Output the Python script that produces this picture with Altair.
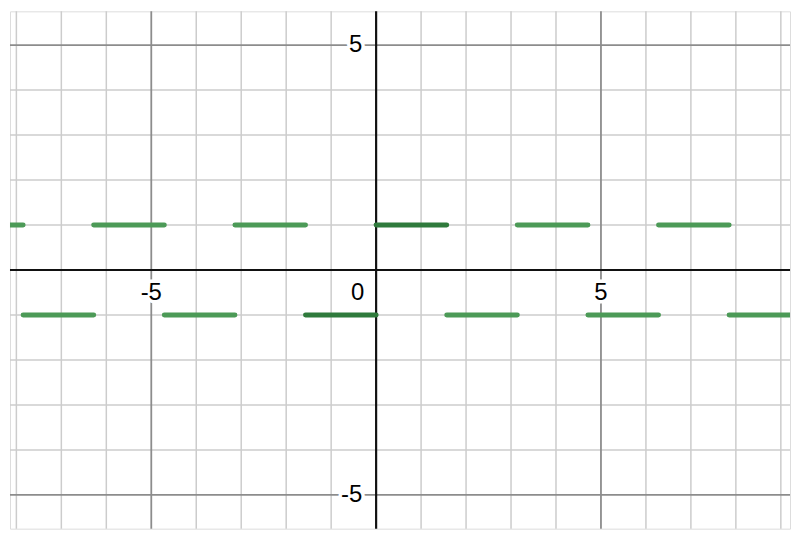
import altair as alt
import pandas as pd

# Segment endpoints (multiples of about 1.57)
seg_start = [-9.42, -7.85, -6.28, -4.71, -3.14, -1.57, 0.0, 1.57, 3.14, 4.71, 6.28, 7.85]
seg_end = [-7.85, -6.28, -4.71, -3.14, -1.57, 0.0, 1.57, 3.14, 4.71, 6.28, 7.85, 9.42]
seg_y = [1, -1, 1, -1, 1, -1, 1, -1, 1, -1, 1, -1]
seg_kind = ["light", "light", "light", "light", "light", "dark",
            "dark", "light", "light", "light", "light", "light"]

minor_x = [-8, -7, -6, -4, -3, -2, -1, 1, 2, 3, 4, 6, 7, 8, 9]
minor_y = [-4, -3, -2, -1, 1, 2, 3, 4]
major_x = [-5, 5]
major_y = [-5, 5]

x_tick_labels = ["-5", "5"]
x_tick_vals = [-5, 5]
y_tick_labels = ["-5", "5"]
y_tick_vals = [-5, 5]

X_DOM = [-8.142, 9.204]
Y_DOM = [-5.752, 5.752]

xs = alt.Scale(domain=X_DOM, nice=False, zero=False)
ys = alt.Scale(domain=Y_DOM, nice=False, zero=False)

segs = pd.DataFrame({"x1": seg_start, "x2": seg_end, "y": seg_y, "kind": seg_kind})
vmin = pd.DataFrame({"x": minor_x})
hmin = pd.DataFrame({"y": minor_y})
vmaj = pd.DataFrame({"x": major_x})
hmaj = pd.DataFrame({"y": major_y})
xlab = pd.DataFrame({"x": x_tick_vals, "t": x_tick_labels, "y": [0, 0]})
ylab = pd.DataFrame({"y": y_tick_vals, "t": y_tick_labels, "x": [0, 0]})
zlab = pd.DataFrame({"x": [0], "y": [0], "t": ["0"]})
axis0 = pd.DataFrame({"v": [0]})

GRID_MINOR = "#cccccc"
GRID_MAJOR = "#8c8c8c"

vminor = alt.Chart(vmin).mark_rule(color=GRID_MINOR, strokeWidth=1.5).encode(
    x=alt.X("x:Q", scale=xs, axis=None))
hminor = alt.Chart(hmin).mark_rule(color=GRID_MINOR, strokeWidth=1.5).encode(
    y=alt.Y("y:Q", scale=ys, axis=None))
vmajor = alt.Chart(vmaj).mark_rule(color=GRID_MAJOR, strokeWidth=1.8).encode(
    x=alt.X("x:Q", scale=xs, axis=None))
hmajor = alt.Chart(hmaj).mark_rule(color=GRID_MAJOR, strokeWidth=1.8).encode(
    y=alt.Y("y:Q", scale=ys, axis=None))

xaxis = alt.Chart(axis0).mark_rule(color="#111111", strokeWidth=2.2).encode(
    y=alt.Y("v:Q", scale=ys, axis=None))
yaxis = alt.Chart(axis0).mark_rule(color="#111111", strokeWidth=2.2).encode(
    x=alt.X("v:Q", scale=xs, axis=None))

FONT = "Liberation Sans"
FS = 24

def labels(df, dx, dy, align):
    halo = alt.Chart(df).mark_text(font=FONT, fontSize=FS, dx=dx, dy=dy, align=align,
                                   baseline="middle", stroke="white", strokeWidth=7,
                                   fill="white", strokeJoin="round").encode(
        x=alt.X("x:Q", scale=xs, axis=None), y=alt.Y("y:Q", scale=ys, axis=None), text="t:N")
    txt = alt.Chart(df).mark_text(font=FONT, fontSize=FS, dx=dx, dy=dy, align=align,
                                  baseline="middle", color="#000000").encode(
        x=alt.X("x:Q", scale=xs, axis=None), y=alt.Y("y:Q", scale=ys, axis=None), text="t:N")
    return [halo, txt]

segments = alt.Chart(segs).mark_rule(strokeWidth=5, strokeCap="round", clip=True).encode(
    x=alt.X("x1:Q", scale=xs, axis=None),
    x2="x2:Q",
    y=alt.Y("y:Q", scale=ys, axis=None),
    color=alt.Color("kind:N", scale=alt.Scale(domain=["light", "dark"],
                                               range=["#4c9a57", "#2f7a3c"]), legend=None),
)

layers = [vminor, hminor, vmajor, hmajor]
layers += labels(xlab, 0, 23, "center")
layers += labels(ylab, -14, 0, "right")
layers += labels(zlab, -12, 23, "right")
layers += [xaxis, yaxis, segments]

chart = alt.layer(*layers).properties(
    width=784, height=520, padding=0
).configure_view(stroke=None).configure(background="white")

chart.save("out.html", embed_options={"renderer": "svg", "actions": False})
